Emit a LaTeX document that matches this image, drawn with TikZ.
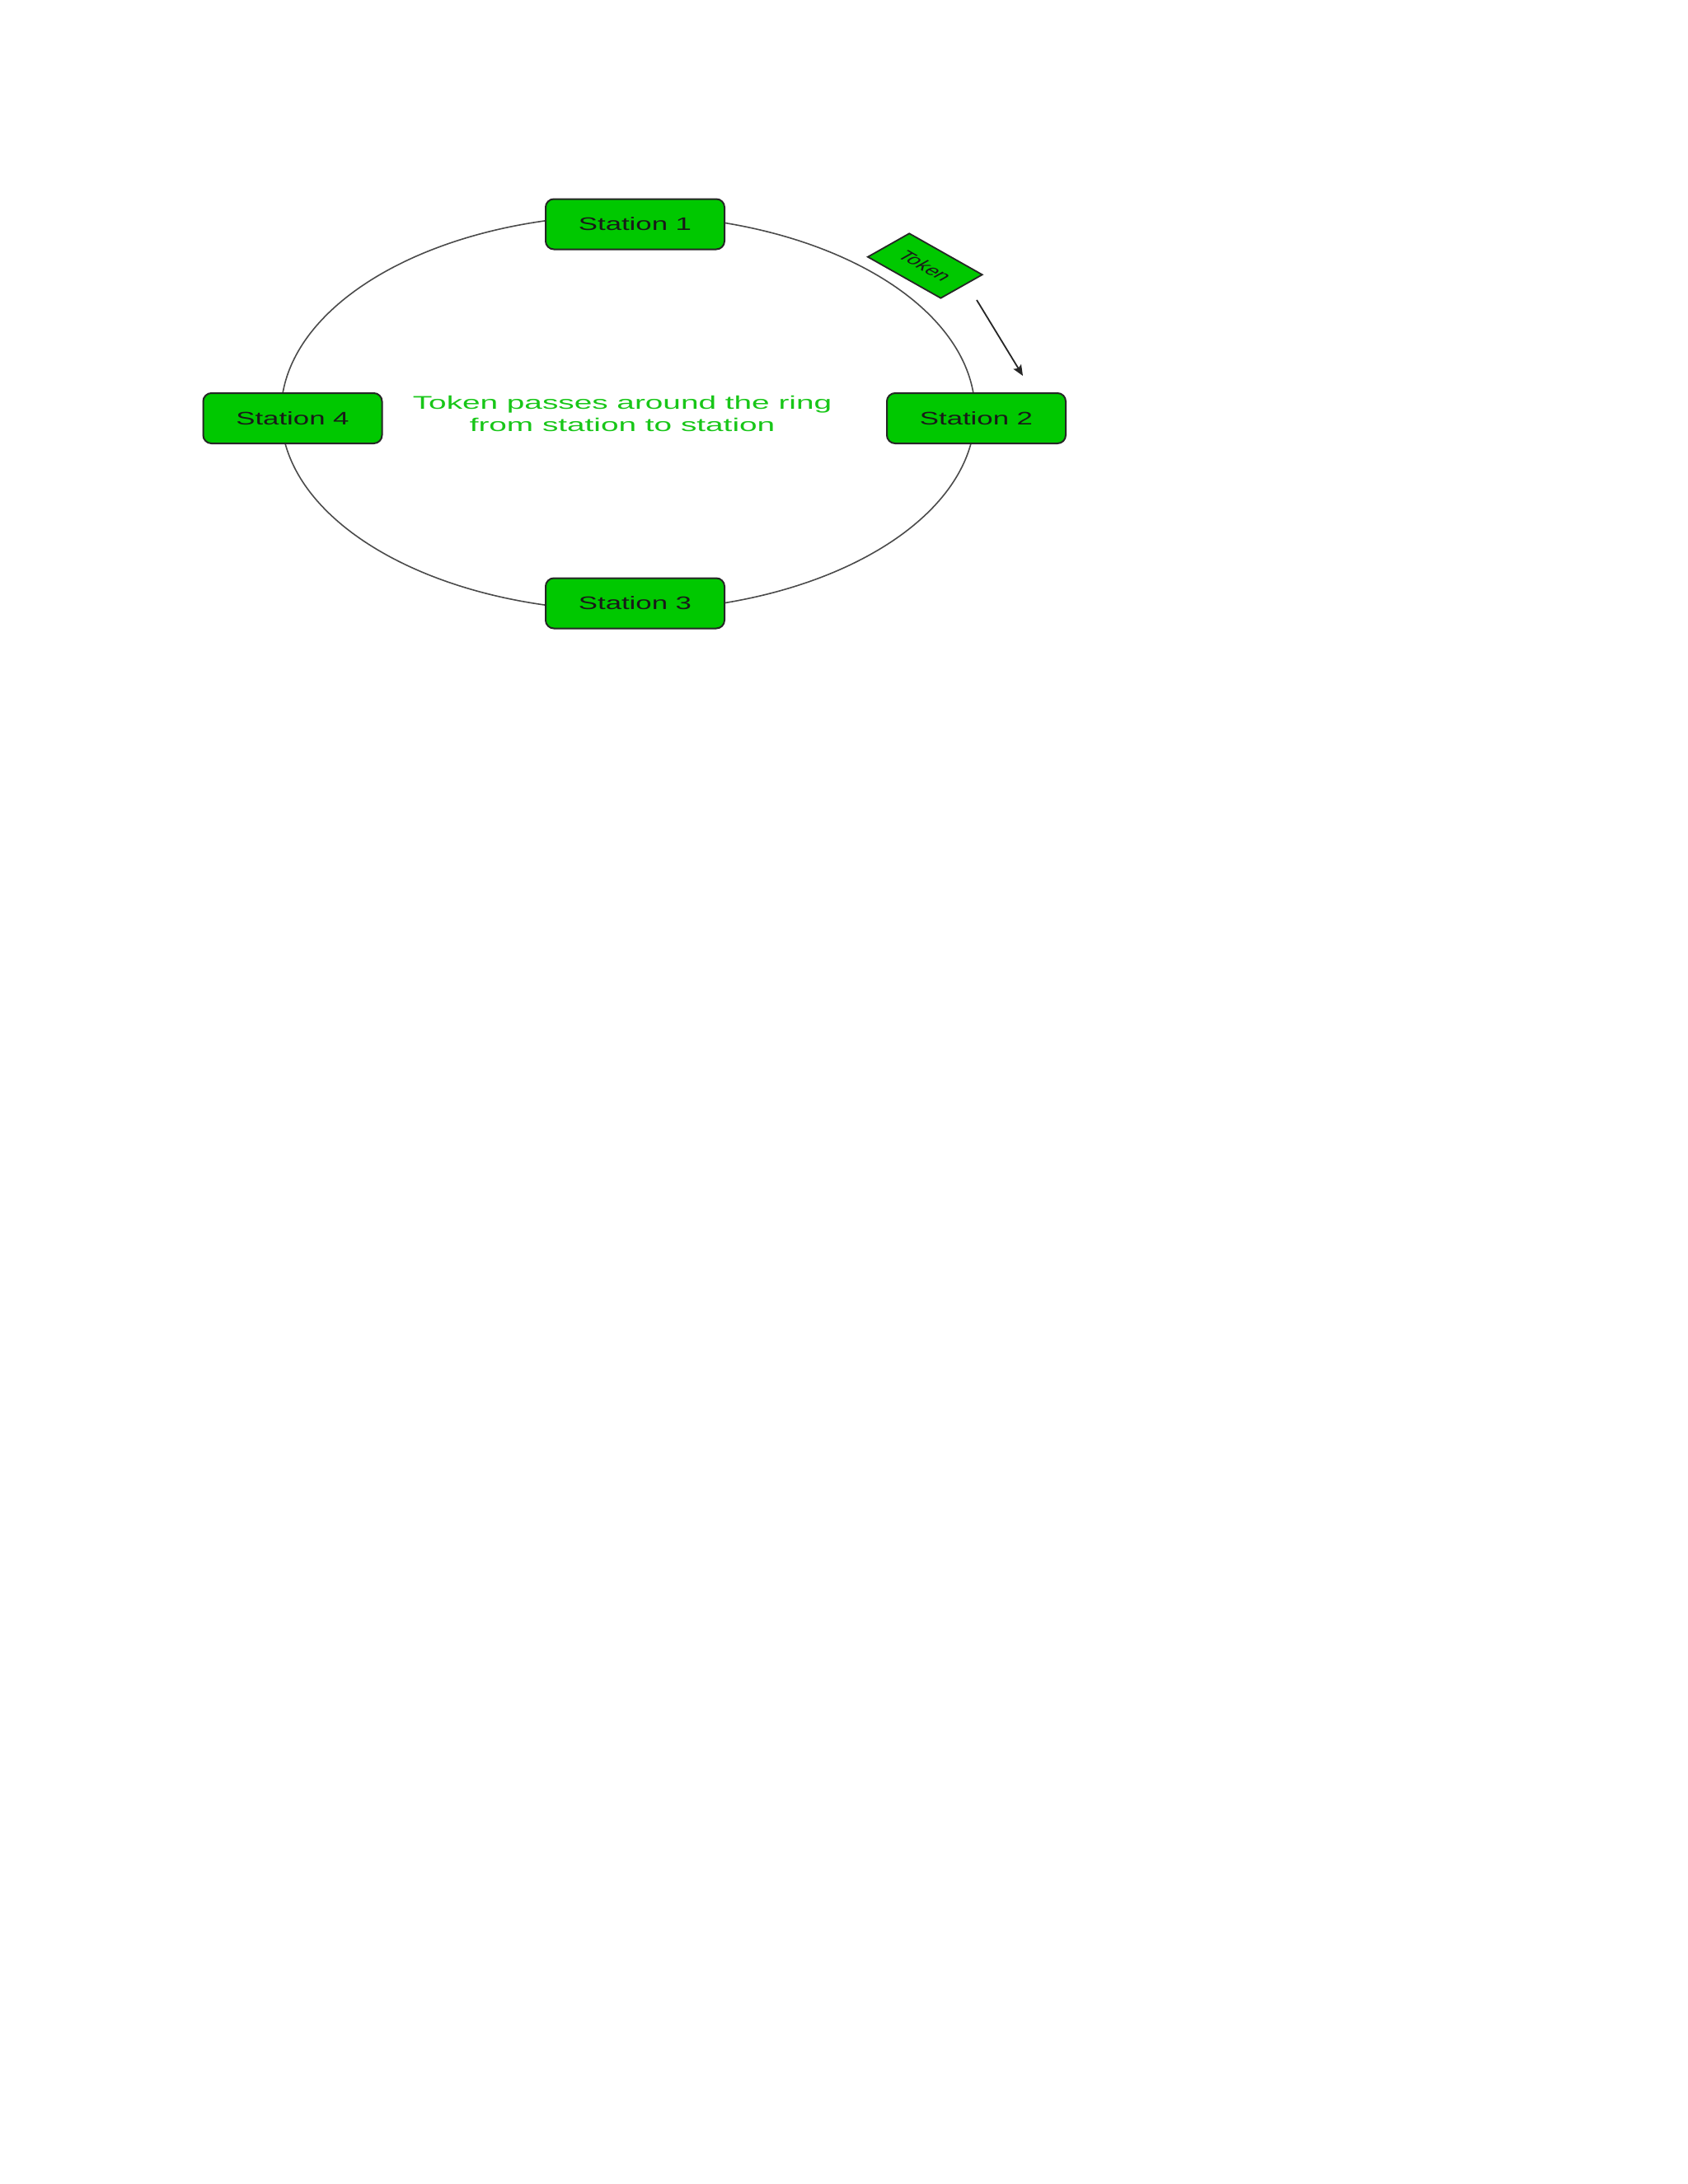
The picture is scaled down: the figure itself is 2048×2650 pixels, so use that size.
\documentclass[tikz,border=0pt]{standalone}
\usepackage{fontspec}
\setmainfont{Liberation Sans}
\usetikzlibrary{arrows.meta}
\definecolor{stgreen}{RGB}{0,200,0}
\definecolor{txtgreen}{RGB}{24,198,24}
\definecolor{ringgray}{RGB}{75,75,75}
\newcommand\widetext[2]{\scalebox{#1}[1]{#2}}
\begin{document}
\begin{tikzpicture}[x=0.5pt,y=-0.5pt,
  stationbox/.style={draw=black!85, line width=1pt, fill=stgreen, rounded corners=5pt,
    minimum width=108.5pt, minimum height=30.5pt, inner sep=0pt,
    font=\fontsize{11}{13}\selectfont, text=black!90},
  tokenbox/.style={draw=black!85, line width=0.9pt, fill=stgreen,
    minimum width=35.35pt, minimum height=20.1pt, inner sep=0pt,
    font=\fontsize{8.3}{10}\selectfont, text=black!90},
  ring/.style={draw=ringgray, line width=0.8pt},
  flowarrow/.style={draw=black!85, line width=0.9pt, -{Stealth[length=6.5pt,width=5.5pt,inset=1.2pt]}},
  caption/.style={font=\fontsize{11.2}{13.35}\selectfont, text=txtgreen, align=center, inner sep=0pt}
]
\fill[white] (0,0) rectangle (2048,2650);
\useasboundingbox (0,0) rectangle (2048,2650);

% ring
\coordinate (ringc) at (762,501);
\draw[ring] (ringc) ellipse [x radius=421, y radius=240];

% stations
\node[stationbox] (s1) at (770.5,272) {\widetext{1.58}{Station 1}};
\node[stationbox] (s2) at (1184.5,507.5) {\widetext{1.58}{Station 2}};
\node[stationbox] (s3) at (770.5,732) {\widetext{1.58}{Station 3}};
\node[stationbox] (s4) at (355,507.5) {\widetext{1.58}{Station 4}};

% token (rotated, then stretched horizontally like the reference)
\begin{scope}[shift={(1122.3,322.5)}, xscale=1.77]
  \node[tokenbox, rotate=-45, transform shape] (token) at (0,0) {Token};
\end{scope}

% arrow
\coordinate (a1) at (1185,364);
\coordinate (a2) at (1241,456);
\draw[flowarrow] (a1) -- (a2);

% caption
\node[caption] (cap) at (755,502) {\widetext{1.73}{Token passes around the ring}\\\widetext{1.73}{from station to station}};
\end{tikzpicture}
\end{document}
